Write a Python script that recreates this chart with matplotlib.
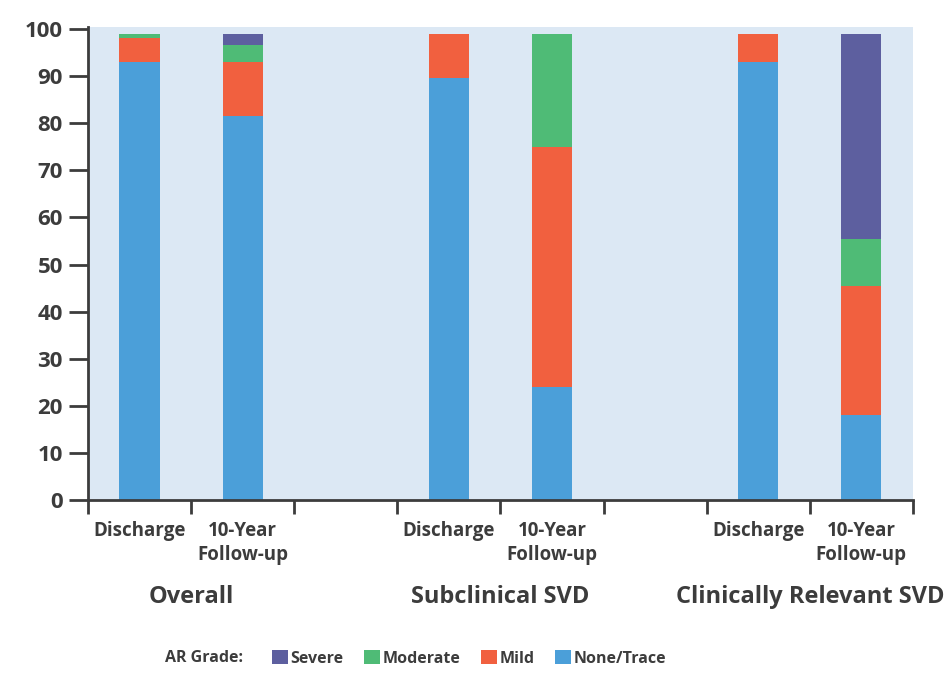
import numpy as np
import matplotlib
matplotlib.use("Agg")
import matplotlib.pyplot as plt
from matplotlib.patches import Patch

plt.rcParams['font.family'] = ['Open Sans', 'DejaVu Sans']
plt.rcParams['font.weight'] = 'bold'

groups = ['Overall', 'Subclinical SVD', 'Clinically Relevant SVD']
timepoints = ['Discharge', '10-Year\nFollow-up']
grades = ['None/Trace', 'Mild', 'Moderate', 'Severe']

# percent per grade, bars in order: Overall D/FU, Subclinical D/FU, Clinical D/FU
none_trace = [93, 81.5, 89.5, 24, 93, 18]
mild = [5, 11.5, 9.5, 51, 6, 27.5]
moderate = [1, 3.5, 0, 24, 0, 10]
severe = [0, 2.5, 0, 0, 0, 43.5]

colors = {'None/Trace': '#4b9fd9', 'Mild': '#f1603f', 'Moderate': '#4fbb76', 'Severe': '#5d5f9f'}
text_col = '#3c3c3c'
bg = '#dce8f4'

series = [none_trace, mild, moderate, severe]
pos = np.array([0, 1, 3, 4, 6, 7])

fig = plt.figure(figsize=(9.5, 6.78), dpi=100)
ax = fig.add_axes([0.0926, 0.2625, 0.8684, 0.6975])
ax.set_facecolor(bg)

bottom = np.zeros(len(pos))
for name, vals in zip(grades, series):
    vals = np.array(vals, dtype=float)
    ax.bar(pos, vals, width=0.39, bottom=bottom, color=colors[name], linewidth=0, zorder=2)
    bottom += vals

ax.set_xlim(-0.5, 7.5)
ax.set_ylim(0, 100.4)
ax.set_yticks(np.arange(0, 101, 10))
ax.tick_params(axis='y', length=14, width=2, color=text_col, labelsize=16, labelcolor=text_col, pad=4)

ax.set_xticks(np.arange(-0.5, 8, 1))
ax.set_xticklabels([])
ax.tick_params(axis='x', which='major', length=10, width=2, color=text_col)
ax.set_xticks(pos, minor=True)
ax.set_xticklabels(timepoints * 3, minor=True)
ax.tick_params(axis='x', which='minor', length=0, labelsize=13.5, labelcolor=text_col, pad=15)
for lab in ax.get_xticklabels(minor=True):
    lab.set_linespacing(1.3)

for s in ['top', 'right']:
    ax.spines[s].set_visible(False)
for s in ['left', 'bottom']:
    ax.spines[s].set_color(text_col)
    ax.spines[s].set_linewidth(2)

for i, g in enumerate(groups):
    ax.text(3 * i + 0.5, -0.205, g, transform=ax.get_xaxis_transform(),
            ha='center', va='center', fontsize=17, color=text_col)

handles = [Patch(facecolor=colors[g], edgecolor='none') for g in grades[::-1]]
fig.text(0.174, 0.029, 'AR Grade:', ha='left', va='center', fontsize=11.5, color=text_col)
fig.legend(handles, grades[::-1], loc='center left', bbox_to_anchor=(0.286, 0.029),
           ncol=4, frameon=False, handlelength=1.0, handleheight=1.0, handletextpad=0.15,
           columnspacing=1.3, fontsize=11.5, labelcolor=text_col, borderpad=0, borderaxespad=0)

fig.savefig('out.png', dpi=100, facecolor='white')
